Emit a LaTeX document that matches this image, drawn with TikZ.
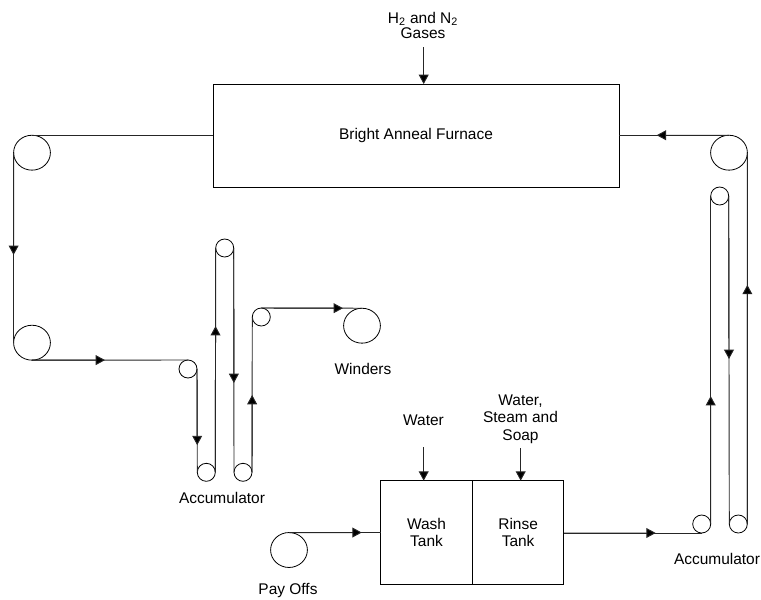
\documentclass[tikz,border=0pt]{standalone}
\usepackage{fontspec}
\setmainfont{Liberation Sans}
\usetikzlibrary{shapes.geometric,calc,arrows.meta}
\tikzset{
  wire/.style={line width=0.7pt,draw=black!85},
  flowtip/.style={wire,-{Triangle[length=7pt,width=7.4pt,fill=black]}},
  bigroll/.style={ellipse,draw,line width=0.6pt,inner sep=0,outer sep=0,minimum width=27.6pt,minimum height=26.2pt},
  smallroll/.style={ellipse,draw,line width=0.6pt,inner sep=0,outer sep=0,minimum width=13.5pt,minimum height=13.5pt},
  unitbox/.style={draw,line width=0.7pt,inner sep=0,outer sep=0,align=center},
  lab/.style={align=center,inner sep=0,font=\fontsize{11.6}{13}\selectfont},
}
\begin{document}
\begin{tikzpicture}[x=0.75pt,y=-0.75pt]
\useasboundingbox (0,0) rectangle (761,600);
% units
\node[unitbox,lab,minimum width=304.5pt,minimum height=77.5pt] (furnace) at (416,135.7) {Bright Anneal Furnace};
\node[unitbox,lab,minimum width=68.7pt,minimum height=77.7pt] (wash) at (426.5,532.5) {Wash\\Tank};
\node[unitbox,lab,minimum width=68.7pt,minimum height=77.7pt] (rinse) at (518.1,532.5) {Rinse\\Tank};
% rolls
\node[bigroll] (tl) at (32,152.7) {};
\node[bigroll] (ml) at (32,342.7) {};
\node[bigroll] (win) at (362,325.7) {};
\node[bigroll] (pay) at (289,550) {};
\node[bigroll] (tr) at (729,152.7) {};
\node[smallroll] (a1) at (188,369) {};
\node[smallroll] (a2) at (206.3,472.3) {};
\node[smallroll] (a3) at (224.7,248) {};
\node[smallroll] (a4) at (243,472.3) {};
\node[smallroll] (a5) at (261.3,317) {};
\node[smallroll] (b1) at (701.7,524) {};
\node[smallroll] (b2) at (719.7,196) {};
\node[smallroll] (b3) at (738.3,524) {};
% labels
\node[lab] (gas) at (423,25.5) {H\textsubscript{2} and N\textsubscript{2}\\[-1.5pt]Gases};
\node[lab] (water) at (423.5,420) {Water};
\node[lab] (steam) at (520.5,419) {Water,\\Steam and\\Soap};
\node[lab] (winders) at (363,369) {Winders};
\node[lab] (accl) at (222,498) {Accumulator};
\node[lab] (accr) at (717,559) {Accumulator};
\node[lab] (payl) at (288,591) {Pay Offs};
% free ends of the feeds
\coordinate (gasin) at (423.7,47);
\coordinate (waterin) at (423.7,447);
\coordinate (steamin) at (520.7,448);
% feeds
\draw[flowtip] (gasin) -- (gasin |- furnace.north);
\draw[flowtip] (waterin) -- (waterin |- wash.north);
\draw[flowtip] (steamin) -- (steamin |- rinse.north);
% wire, left side
\draw[wire] (tl.north) -- (tl.north -| furnace.west);
\draw[wire] (tl.west) -- (ml.west);
\draw[flowtip] (tl.west) -- ($(tl.west)!.538!(ml.west)$);
\draw[wire] (ml.south) -- (a1.north);
\draw[flowtip] (ml.south) -- ($(ml.south)!.468!(a1.north)$);
\draw[wire] (a1.east) -- (a2.west);
\draw[flowtip] (a1.east) -- ($(a1.east)!.737!(a2.west)$);
\draw[wire] (a2.east) -- (a3.west);
\draw[flowtip] (a2.east) -- ($(a2.east)!.652!(a3.west)$);
\draw[wire] (a3.east) -- (a4.west);
\draw[flowtip] (a3.east) -- ($(a3.east)!.602!(a4.west)$);
\draw[wire] (a4.east) -- (a5.west);
\draw[flowtip] (a4.east) -- ($(a4.east)!.498!(a5.west)$);
\draw[wire] (a5.north) -- (win.north);
\draw[flowtip] (a5.north) -- ($(a5.north)!.811!(win.north)$);
% wire, right side
\draw[wire] (pay.north) -- (pay.north -| wash.west);
\draw[flowtip] (pay.north) -- ($(pay.north)!.793!(pay.north -| wash.west)$);
\draw[wire] (b1.south -| rinse.east) -- (b1.south);
\draw[flowtip] (b1.south -| rinse.east) -- ($(b1.south -| rinse.east)!.666!(b1.south)$);
\draw[wire] (b1.east) -- (b2.west);
\draw[flowtip] (b1.east) -- ($(b1.east)!.39!(b2.west)$);
\draw[wire] (b2.east) -- (b3.west);
\draw[flowtip] (b2.east) -- ($(b2.east)!.497!(b3.west)$);
\draw[wire] (b3.east) -- (tr.east);
\draw[flowtip] (b3.east) -- ($(b3.east)!.644!(tr.east)$);
\draw[wire] (tr.north) -- (tr.north -| furnace.east);
\draw[flowtip] (tr.north) -- ($(tr.north)!.657!(tr.north -| furnace.east)$);
\end{tikzpicture}
\end{document}
